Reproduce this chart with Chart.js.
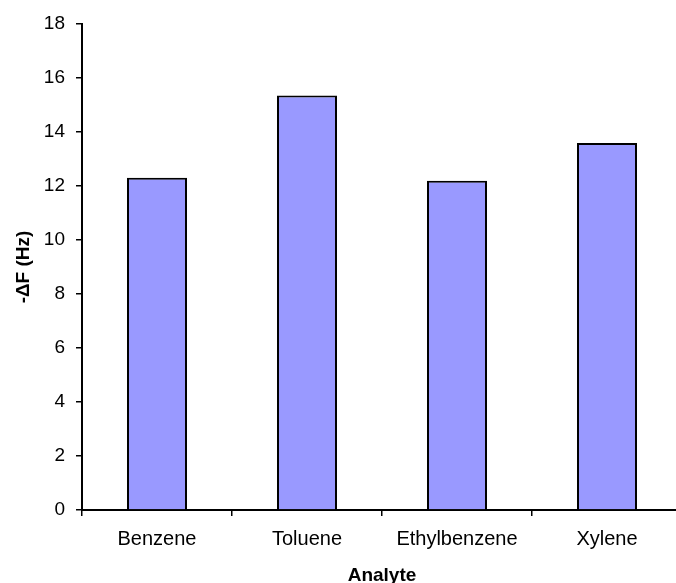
<!DOCTYPE html>
<html>
<head>
<meta charset="utf-8">
<script src="https://cdn.jsdelivr.net/npm/chart.js@4"></script>
<style>
  html, body { margin: 0; padding: 0; overflow: hidden; background: #fff; }
  #wrap { width: 684px; height: 583px; }
</style>
</head>
<body>
<div id="wrap"><canvas id="chart"></canvas></div>
<script>
// Data
const analytes = ['Benzene', 'Toluene', 'Ethylbenzene', 'Xylene'];
const deltaF = [12.31, 15.35, 12.19, 13.59];
const yTicks = [0, 2, 4, 6, 8, 10, 12, 14, 16, 18];

const font = { family: "'Liberation Sans', Arial, sans-serif", size: 19 };

new Chart(document.getElementById('chart'), {
  type: 'bar',
  data: {
    labels: analytes,
    datasets: [{
      data: deltaF,
      backgroundColor: '#9999FF',
      borderColor: '#000',
      borderWidth: 2,
      barPercentage: 0.4,
      categoryPercentage: 1.0
    }]
  },
  options: {
    responsive: true,
    maintainAspectRatio: false,
    animation: false,
    layout: { padding: { top: 24, right: 2, left: 0, bottom: 0 } },
    plugins: { legend: { display: false }, tooltip: { enabled: false } },
    scales: {
      x: {
        afterFit: (scale) => { scale.height = 73; },
        grid: { drawOnChartArea: false, tickLength: 6, color: '#000', lineWidth: 1.5, offset: true },
        border: { color: '#000', width: 2 },
        ticks: { color: '#000', font: { ...font, size: 20 }, padding: 11, maxRotation: 0 },
        title: {
          display: true, text: 'Analyte', color: '#000',
          font: { ...font, weight: 'bold', lineHeight: 0.8 }, padding: 0
        }
      },
      y: {
        min: yTicks[0],
        max: yTicks[yTicks.length - 1],
        afterFit: (scale) => { scale.width = 82; },
        afterBuildTicks: (scale) => { scale.ticks = yTicks.map(v => ({ value: v })); },
        grid: { drawOnChartArea: false, tickLength: 6, color: '#000', lineWidth: 1.5 },
        border: { color: '#000', width: 2 },
        ticks: { color: '#000', font, padding: 11 },
        title: {
          display: true, text: '-ΔF (Hz)', color: '#000',
          font: { ...font, weight: 'bold', lineHeight: 1 }, padding: { top: 14.5, bottom: 0 }
        }
      }
    }
  }
});
</script>
</body>
</html>
